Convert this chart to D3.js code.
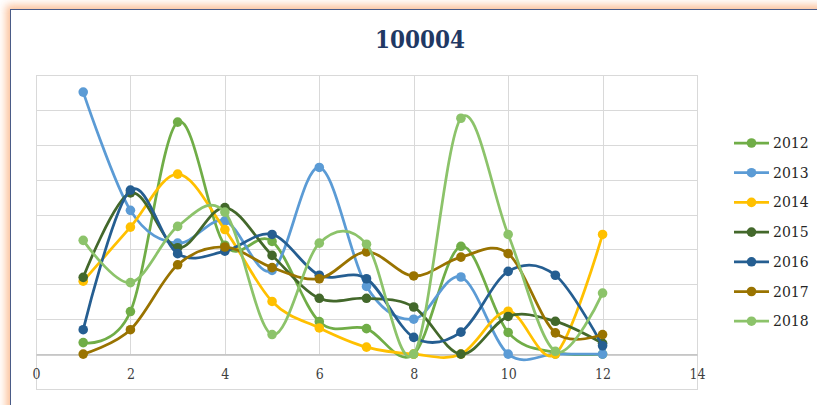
<!DOCTYPE html>
<html>
<head>
<meta charset="utf-8">
<script src="https://cdn.jsdelivr.net/npm/d3@7"></script>
<style>
  html, body { margin: 0; padding: 0; background: #fff; overflow: hidden; }
  #frame {
    position: absolute; left: 10px; top: 9px; width: 840px; height: 430px;
    border: 1.5px solid #4a5b87; background: #fff;
    box-shadow: 0 0 8px 4px rgba(249, 160, 100, 0.65);
  }
  svg { position: absolute; left: 0; top: 0; }
</style>
</head>
<body>
<div id="frame"></div>
<svg id="chart" width="817" height="405"></svg>
<script>
// Monthly readings per year
const months = [1, 2, 3, 4, 5, 6, 7, 8, 9, 10, 11, 12];
const years = ["2012", "2013", "2014", "2015", "2016", "2017", "2018"];
const s2012 = [0.33, 1.22, 6.65, 3.12, 3.23, 0.93, 0.73, 0, 3.09, 0.62, 0.05, 0];
const s2013 = [7.51, 4.12, 3.18, 3.82, 2.40, 5.35, 1.94, 1.00, 2.21, 0, 0, 0];
const s2014 = [2.09, 3.64, 5.16, 3.57, 1.51, 0.75, 0.20, 0, 0, 1.23, 0, 3.43];
const s2015 = [2.20, 4.62, 3.05, 4.20, 2.83, 1.60, 1.60, 1.35, 0, 1.08, 0.94, 0.31];
const s2016 = [0.70, 4.70, 2.88, 2.95, 3.43, 2.26, 2.16, 0.48, 0.63, 2.37, 2.26, 0.24];
const s2017 = [0, 0.70, 2.56, 3.07, 2.48, 2.16, 2.93, 2.24, 2.78, 2.88, 0.61, 0.56];
const s2018 = [3.26, 2.05, 3.66, 4.07, 0.56, 3.18, 3.15, 0, 6.76, 3.43, 0.08, 1.75];
const seriesValues = [s2012, s2013, s2014, s2015, s2016, s2017, s2018];
const colors = ["#70AD47", "#5B9BD5", "#FFC000", "#43682B", "#255E91", "#997300", "#8CC36A"];
const xTicks = [0, 2, 4, 6, 8, 10, 12, 14];
const title = "100004";

const svg = d3.select("#chart");
const x = d3.scaleLinear().domain([0, 14]).range([36, 697]);
const y = d3.scaleLinear().domain([-1, 8]).range([389, 75]);

// Plot area grid
const grid = svg.append("g").attr("stroke", "#d9d9d9").attr("stroke-width", 1).attr("fill", "none");
grid.selectAll("line.h").data(d3.range(-1, 9)).join("line")
  .attr("x1", x(0)).attr("x2", x(14))
  .attr("y1", d => Math.round(y(d)) + 0.5).attr("y2", d => Math.round(y(d)) + 0.5);
grid.selectAll("line.v").data(xTicks.filter(t => t > 0 && t < 14)).join("line")
  .attr("x1", d => Math.round(x(d)) + 0.5).attr("x2", d => Math.round(x(d)) + 0.5)
  .attr("y1", y(8)).attr("y2", y(0));
grid.append("rect")
  .attr("x", Math.round(x(0)) + 0.5).attr("y", Math.round(y(8)) + 0.5)
  .attr("width", Math.round(x(14)) - Math.round(x(0)))
  .attr("height", Math.round(y(-1)) - Math.round(y(8)));

// Horizontal axis through zero
const xAxis = d3.axisBottom(x).tickValues(xTicks).tickSize(0).tickPadding(15);
const ax = svg.append("g").attr("transform", `translate(0,${Math.round(y(0)) + 0.5})`).call(xAxis);
ax.select(".domain").attr("stroke", "#bfbfbf").attr("stroke-width", 1.5);
ax.selectAll("text")
  .attr("font-family", "'DejaVu Serif', 'Liberation Serif', serif")
  .attr("font-stretch", "condensed")
  .attr("font-size", 14).attr("fill", "#404040");

// Smoothed series lines with markers
const line = d3.line()
  .x((d, i) => x(months[i]))
  .y(d => y(d))
  .curve(d3.curveCardinal.tension(0));

years.forEach((yr, k) => {
  const g = svg.append("g");
  g.append("path")
    .attr("d", line(seriesValues[k]))
    .attr("fill", "none")
    .attr("stroke", colors[k])
    .attr("stroke-width", 2.75)
    .attr("stroke-linejoin", "round")
    .attr("stroke-linecap", "round");
  g.selectAll("circle").data(seriesValues[k]).join("circle")
    .attr("cx", (d, i) => x(months[i]))
    .attr("cy", d => y(d))
    .attr("r", 4.8)
    .attr("fill", colors[k]);
});

// Title
svg.append("text")
  .attr("x", 420).attr("y", 48)
  .attr("text-anchor", "middle")
  .attr("font-family", "'DejaVu Serif', 'Liberation Serif', serif")
  .attr("font-stretch", "condensed")
  .attr("font-weight", "bold")
  .attr("font-size", 24)
  .attr("fill", "#1F3864")
  .text(title);

// Legend
const legend = svg.append("g");
years.forEach((yr, k) => {
  const ly = 143 + k * 29.7;
  legend.append("line")
    .attr("x1", 734).attr("x2", 769).attr("y1", ly).attr("y2", ly)
    .attr("stroke", colors[k]).attr("stroke-width", 2.75);
  legend.append("circle")
    .attr("cx", 751.5).attr("cy", ly).attr("r", 4.8).attr("fill", colors[k]);
  legend.append("text")
    .attr("x", 773).attr("y", ly + 5)
    .attr("font-family", "'DejaVu Serif', 'Liberation Serif', serif")
    .attr("font-size", 14).attr("fill", "#262626")
    .text(yr);
});
</script>
</body>
</html>
